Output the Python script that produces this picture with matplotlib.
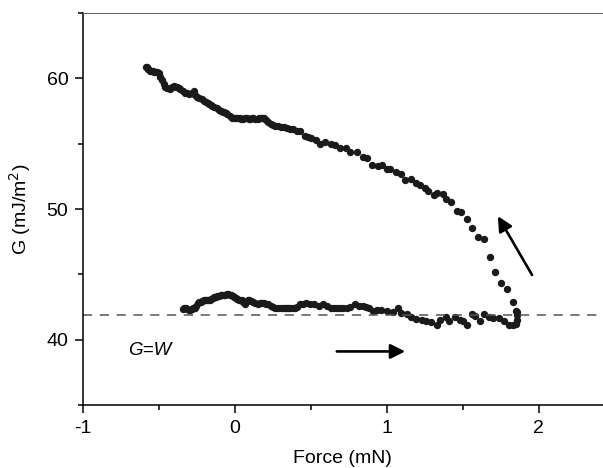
import matplotlib
matplotlib.use("Agg")
import matplotlib.pyplot as plt
from matplotlib.ticker import MultipleLocator

plt.rcParams['font.family'] = ['Liberation Sans', 'DejaVu Sans']
plt.rcParams['axes.unicode_minus'] = False

# Upper branch (unloading) : force (mN), G (mJ/m^2)
upper_force = [-0.585, -0.58, -0.575, -0.57, -0.56, -0.55, -0.54, -0.53, -0.52, -0.51, -0.50, -0.49,
               -0.48, -0.47, -0.46, -0.445, -0.43, -0.415, -0.40, -0.39, -0.38, -0.37, -0.36, -0.345,
               -0.33, -0.315, -0.30, -0.285, -0.27, -0.26, -0.25, -0.235, -0.22, -0.205, -0.19, -0.18,
               -0.17, -0.16, -0.15, -0.135, -0.12, -0.105, -0.09, -0.08, -0.07, -0.06, -0.05, -0.035,
               -0.02, -0.005, 0.01, 0.02, 0.03, 0.04, 0.05, 0.065, 0.08, 0.09, 0.10, 0.11, 0.12,
               0.135, 0.15, 0.16, 0.17, 0.18, 0.19, 0.205, 0.22, 0.235, 0.25, 0.265, 0.28, 0.30,
               0.32, 0.34, 0.36, 0.38, 0.41, 0.43, 0.46, 0.48,
               0.50, 0.53, 0.56, 0.59, 0.63, 0.66, 0.69, 0.73, 0.76, 0.80, 0.84, 0.87, 0.90,
               0.94, 0.97, 1.00, 1.02, 1.06, 1.09, 1.12, 1.16, 1.19, 1.22, 1.25, 1.27, 1.31,
               1.33, 1.37, 1.39, 1.42, 1.46, 1.49, 1.53, 1.56, 1.60, 1.64, 1.68, 1.71, 1.75,
               1.79, 1.83, 1.85]
upper_G = [60.9, 60.85, 60.75, 60.7, 60.6, 60.6, 60.55, 60.5, 60.45, 60.45, 60.4, 60.1,
           59.85, 59.55, 59.3, 59.25, 59.2, 59.3, 59.4, 59.35, 59.3, 59.25, 59.2, 59.05,
           58.9, 58.85, 58.8, 58.9, 59.0, 58.75, 58.55, 58.5, 58.4, 58.3, 58.2, 58.1,
           58.05, 57.95, 57.9, 57.8, 57.7, 57.6, 57.5, 57.45, 57.4, 57.35, 57.3, 57.15,
           57.0, 57.0, 57.0, 56.95, 56.95, 56.9, 56.9, 56.95, 56.95, 56.9, 56.9, 56.95, 56.95,
           56.9, 56.9, 56.95, 56.95, 56.95, 56.95, 56.8, 56.65, 56.5, 56.4, 56.35, 56.35, 56.3,
           56.25, 56.2, 56.15, 56.1, 56.0, 55.95, 55.6, 55.5,
           55.4, 55.3, 55.0, 55.1, 54.96, 54.9, 54.7, 54.65, 54.4, 54.35, 54.0, 53.9, 53.4,
           53.3, 53.35, 53.1, 53.1, 52.8, 52.7, 52.2, 52.3, 52.0, 51.8, 51.6, 51.4, 51.1,
           51.2, 51.15, 50.8, 50.5, 49.85, 49.8, 49.2, 48.55, 47.85, 47.7, 46.3, 45.2, 44.35,
           43.9, 42.9, 42.2]

# Lower branch (loading)
lower_force = [-0.345, -0.335, -0.325, -0.315, -0.305, -0.295, -0.285, -0.275, -0.265, -0.255,
               -0.245, -0.235, -0.225, -0.215, -0.205, -0.195, -0.185, -0.175, -0.165, -0.155,
               -0.145, -0.135, -0.125, -0.115, -0.105, -0.095, -0.085, -0.075, -0.065, -0.055,
               -0.045, -0.035, -0.025, -0.015, -0.005, 0.005, 0.015, 0.025, 0.035, 0.045, 0.055,
               0.065, 0.075, 0.085, 0.095, 0.105, 0.12, 0.135, 0.15, 0.165, 0.18, 0.19, 0.205,
               0.22, 0.235, 0.25, 0.265, 0.28, 0.30, 0.32, 0.335, 0.35, 0.365, 0.38, 0.395, 0.41,
               0.43, 0.45, 0.47, 0.495, 0.52, 0.55, 0.58, 0.605, 0.63, 0.65, 0.67, 0.69, 0.71,
               0.735, 0.76, 0.79, 0.815, 0.84, 0.86, 0.88, 0.91, 0.935, 0.96,
               1.00, 1.04, 1.07, 1.09, 1.13, 1.16, 1.19, 1.23, 1.26, 1.29, 1.33, 1.35, 1.39,
               1.41, 1.45, 1.48, 1.50, 1.53, 1.56, 1.58, 1.61, 1.64, 1.67, 1.70, 1.74, 1.77,
               1.80, 1.83, 1.85, 1.855, 1.855, 1.855]
lower_G = [42.35, 42.4, 42.4, 42.35, 42.3, 42.3, 42.35, 42.4, 42.4, 42.6,
           42.8, 42.85, 42.9, 42.95, 43.0, 43.0, 43.0, 43.05, 43.05, 43.15,
           43.2, 43.25, 43.3, 43.35, 43.35, 43.4, 43.4, 43.45, 43.45, 43.5,
           43.5, 43.45, 43.4, 43.35, 43.3, 43.2, 43.1, 43.05, 43.05, 43.0, 42.85,
           42.7, 42.85, 43.05, 43.0, 42.95, 42.9, 42.8, 42.75, 42.8, 42.8, 42.8, 42.75,
           42.7, 42.6, 42.5, 42.45, 42.45, 42.4, 42.4, 42.4, 42.4, 42.4, 42.4, 42.45, 42.5,
           42.7, 42.75, 42.8, 42.75, 42.7, 42.6, 42.75, 42.6, 42.45, 42.45, 42.45, 42.4, 42.4,
           42.45, 42.5, 42.7, 42.6, 42.55, 42.5, 42.45, 42.2, 42.25, 42.3,
           42.2, 42.1, 42.4, 42.05, 41.97, 41.7, 41.6, 41.5, 41.45, 41.35, 41.1, 41.5, 41.7,
           41.4, 41.75, 41.5, 41.45, 41.1, 41.95, 41.8, 41.45, 42.0, 41.7, 41.65, 41.65, 41.45,
           41.1, 41.1, 41.2, 41.5, 41.9, 42.1]

W_level = 41.92

fig = plt.figure(figsize=(6.03, 4.68), dpi=100)
ax = fig.add_axes([0.1376, 0.1346, 0.862, 0.8376])

ax.plot(upper_force, upper_G, 'o', color='#1a1a1a', ms=5.3, mec='none')
ax.plot(lower_force, lower_G, 'o', color='#1a1a1a', ms=5.3, mec='none')
ax.axhline(W_level, color='#555555', lw=1.1, ls=(0, (6, 5)))

ax.text(-0.70, 39.2, 'G=W', fontsize=13.5, style='italic', va='center', ha='left')

ax.annotate('', xy=(1.12, 39.1), xytext=(0.67, 39.1),
            arrowprops=dict(arrowstyle='-|>', lw=1.9, color='black', mutation_scale=22,
                            shrinkA=0, shrinkB=0))
ax.annotate('', xy=(1.73, 49.45), xytext=(1.955, 44.95),
            arrowprops=dict(arrowstyle='-|>', lw=1.9, color='black', mutation_scale=22,
                            shrinkA=0, shrinkB=0))

ax.set_xlim(-1, 2.42)
ax.set_ylim(35, 65)
ax.xaxis.set_major_locator(MultipleLocator(1))
ax.xaxis.set_minor_locator(MultipleLocator(0.5))
ax.yaxis.set_minor_locator(MultipleLocator(5))
ax.set_yticks([40, 50, 60])
ax.tick_params(which='major', direction='out', length=5.5, width=1.1, labelsize=14, pad=5)
ax.tick_params(which='minor', direction='out', length=3.5, width=1.1)
ax.tick_params(top=False, right=False, which='both')

ax.spines['right'].set_visible(False)
ax.spines['top'].set_color('#666666')
for s in ['left', 'bottom']:
    ax.spines[s].set_linewidth(1.1)

ax.set_xlabel('Force (mN)', fontsize=14, labelpad=10)
ax.set_ylabel('G (mJ/m$^2$)', fontsize=14, labelpad=10)

fig.savefig('out.png', dpi=100)
